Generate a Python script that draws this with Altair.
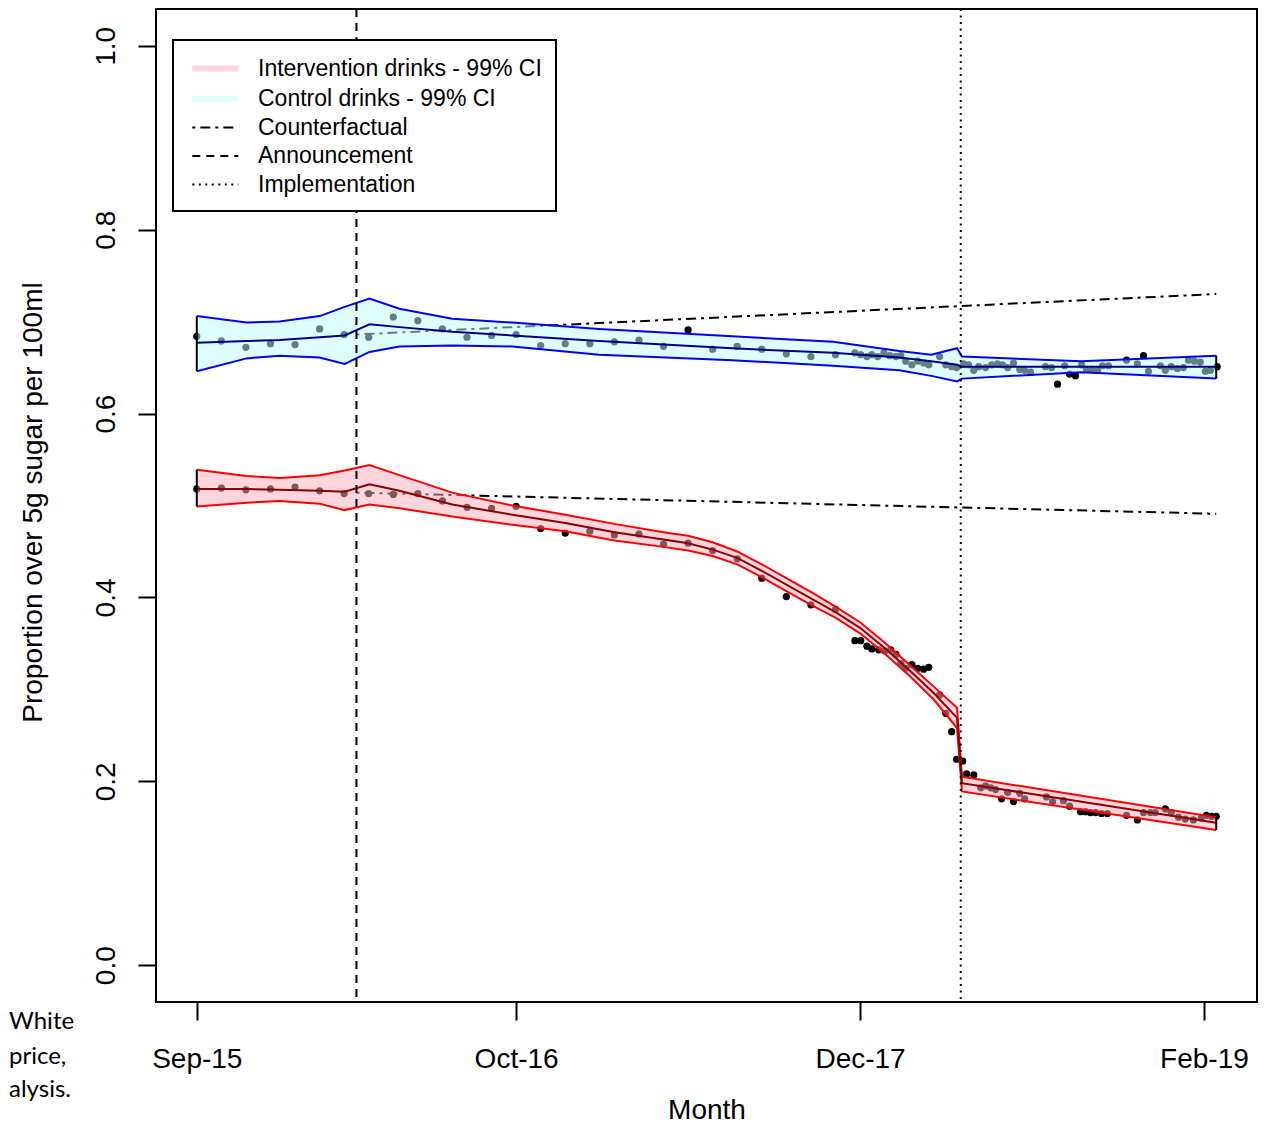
import altair as alt
import pandas as pd

# ---------------- data (x = months since Sep-2015) ----------------
ctrl_pts_m = [0, 1, 2, 3, 4, 5, 6, 7, 8, 9, 10, 11, 12, 13, 14, 15, 16, 17, 18, 19, 20, 21, 22, 23, 24, 25, 26,
              26.79, 27.03, 27.28, 27.48, 27.72, 27.97, 28.21, 28.46, 28.66, 28.86, 29.11, 29.35, 29.59, 29.80,
              30.24, 30.49, 30.73, 30.93, 31.22, 31.42, 31.63, 31.83, 32.11, 32.36, 32.60, 32.80, 33.01, 33.25,
              33.50, 33.70, 33.94, 34.55, 34.80, 35.04, 35.33, 35.53, 35.77, 36.02, 36.22, 36.42, 36.67, 36.87,
              37.11, 37.85, 38.29, 38.54, 38.74, 39.23, 39.43, 39.67, 39.92, 40.16, 40.37, 40.61, 40.85, 41.06,
              41.26, 41.54]
ctrl_pts_v = [0.684, 0.679, 0.672, 0.676, 0.675, 0.692, 0.686, 0.683, 0.705, 0.701, 0.692, 0.683, 0.685, 0.686,
              0.674, 0.676, 0.676, 0.678, 0.680, 0.673, 0.691, 0.670, 0.673, 0.670, 0.665, 0.662, 0.664,
              0.666, 0.664, 0.662, 0.664, 0.662, 0.666, 0.663, 0.662, 0.663, 0.657, 0.653, 0.657, 0.655, 0.653,
              0.662, 0.653, 0.651, 0.650, 0.654, 0.653, 0.647, 0.651, 0.650, 0.653, 0.654, 0.653, 0.650, 0.655,
              0.648, 0.647, 0.645, 0.651, 0.650, 0.632, 0.652, 0.643, 0.641, 0.653, 0.648, 0.648, 0.647, 0.652,
              0.652, 0.658, 0.654, 0.663, 0.646, 0.652, 0.647, 0.651, 0.649, 0.650, 0.658, 0.657, 0.656, 0.646,
              0.647, 0.651]

int_pts_m = [0, 1, 2, 3, 4, 5, 6, 7, 8, 9, 10, 11, 12, 13, 14, 15, 16, 17, 18, 19, 20, 21, 22, 23, 24, 25, 26,
             26.79, 27.03, 27.28, 27.48, 27.76, 28.01, 28.25, 28.46, 28.66, 28.86, 29.11, 29.35, 29.59, 29.80,
             30.24, 30.49, 30.73, 30.93, 31.18, 31.34, 31.63, 31.91, 32.11, 32.32, 32.52, 32.76, 33.01, 33.25,
             33.50, 33.70, 34.59, 34.84, 35.28, 35.53, 35.98, 36.18, 36.38, 36.59, 36.83, 37.07, 37.85, 38.29,
             38.54, 38.82, 39.02, 39.43, 39.67, 39.96, 40.24, 40.57, 40.89, 41.10, 41.30, 41.50]
int_pts_v = [0.518, 0.519, 0.517, 0.518, 0.520, 0.516, 0.513, 0.513, 0.512, 0.513, 0.505, 0.498, 0.497, 0.499,
             0.475, 0.470, 0.472, 0.468, 0.469, 0.458, 0.459, 0.451, 0.442, 0.421, 0.401, 0.392, 0.387,
             0.353, 0.353, 0.347, 0.344, 0.343, 0.342, 0.343, 0.338, 0.328, 0.323, 0.327, 0.323, 0.322, 0.324,
             0.294, 0.274, 0.254, 0.224, 0.222, 0.208, 0.207, 0.193, 0.195, 0.193, 0.191, 0.181, 0.188, 0.178,
             0.187, 0.181, 0.183, 0.178, 0.179, 0.173, 0.167, 0.167, 0.166, 0.166, 0.165, 0.165, 0.163, 0.158,
             0.166, 0.166, 0.166, 0.170, 0.166, 0.161, 0.159, 0.158, 0.160, 0.163, 0.162, 0.162]

ctrl_band_m = [0, 2.03, 3.37, 5, 6.02, 7.03, 8.25, 10.4, 12.85, 16.38, 21.8, 25.9, 28.6, 29.9, 30.95, 31.15, 36.0, 41.5]
ctrl_lo = [0.646, 0.660, 0.663, 0.661, 0.654, 0.667, 0.673, 0.674, 0.673, 0.664, 0.658, 0.652, 0.647, 0.641,
           0.635, 0.638, 0.645, 0.638]
ctrl_fit = [0.677, 0.679, 0.680, 0.683, 0.685, 0.697, 0.694, 0.689, 0.685, 0.679, 0.671, 0.666, 0.661, 0.657,
            0.653, 0.651, 0.651, 0.651]
ctrl_hi = [0.706, 0.699, 0.700, 0.706, 0.716, 0.725, 0.714, 0.703, 0.699, 0.692, 0.684, 0.678, 0.668, 0.664,
           0.671, 0.662, 0.657, 0.663]

int_band_m = [0, 2.03, 3.37, 5, 6.02, 7.03, 8.25, 10.4, 12.85, 15, 17, 19, 20, 21, 22, 23, 24, 25, 26, 27, 28,
              29, 30, 30.95, 31.15, 41.5]
int_lo = [0.499, 0.503, 0.505, 0.502, 0.495, 0.501, 0.497, 0.488, 0.479, 0.472, 0.462, 0.455, 0.451, 0.445,
          0.436, 0.422, 0.407, 0.392, 0.378, 0.361, 0.339, 0.315, 0.289, 0.258, 0.189, 0.147]
int_fit = [0.518, 0.518, 0.517, 0.516, 0.515, 0.523, 0.516, 0.501, 0.490, 0.481, 0.471, 0.463, 0.459, 0.452,
           0.443, 0.429, 0.414, 0.399, 0.384, 0.367, 0.345, 0.321, 0.296, 0.269, 0.198, 0.155]
int_hi = [0.539, 0.532, 0.530, 0.533, 0.538, 0.544, 0.533, 0.514, 0.500, 0.490, 0.480, 0.471, 0.467, 0.460,
          0.450, 0.436, 0.421, 0.406, 0.390, 0.373, 0.351, 0.327, 0.303, 0.280, 0.205, 0.161]

cf_m = [6.5, 41.5]
cf_ctrl = [0.686, 0.730]
cf_int = [0.514, 0.491]

announce_m = 6.5
implement_m = 31.1

tick_months = [0, 13, 27, 41]
tick_labels = ["Sep-15", "Oct-16", "Dec-17", "Feb-19"]
y_ticks = [0.0, 0.2, 0.4, 0.6, 0.8, 1.0]

legend_labels = ["Intervention drinks - 99% CI", "Control drinks - 99% CI", "Counterfactual",
                 "Announcement", "Implementation"]
side_text = ["White", "price,", "alysis."]

# ---------------- styles ----------------
FONT = "Liberation Sans"
DASHDOT = [3, 5, 10, 5]
DASHED = [8, 6]
DOTTED = [2, 4.5]

xs = alt.Scale(domain=[-1.66, 43.16], nice=False, zero=False)
ys = alt.Scale(domain=[-0.04, 1.04], nice=False, zero=False)

label_expr = " : ".join(f"datum.value == {m} ? '{l}'" for m, l in zip(tick_months, tick_labels)) + " : ''"

x_axis = alt.Axis(values=tick_months, labelExpr=label_expr, title="Month", labelFlush=False,
                  labelBaseline="alphabetic", labelPadding=47, titleBaseline="alphabetic", titleY=116)
y_axis = alt.Axis(values=y_ticks, format=".1f", labelAngle=270, labelAlign="center", labelBaseline="alphabetic",
                  labelPadding=24, labelFlush=False, title="Proportion over 5g sugar per 100ml",
                  titleAngle=270, titleAlign="center", titleBaseline="alphabetic", titleX=-115, titleY=493)

# ---------------- tables ----------------
pts_df = pd.concat([
    pd.DataFrame({"m": ctrl_pts_m, "v": ctrl_pts_v, "g": "control"}),
    pd.DataFrame({"m": int_pts_m, "v": int_pts_v, "g": "intervention"}),
])
ctrl_df = pd.DataFrame({"m": ctrl_band_m, "lo": ctrl_lo, "fit": ctrl_fit, "hi": ctrl_hi})
int_df = pd.DataFrame({"m": int_band_m, "lo": int_lo, "fit": int_fit, "hi": int_hi})
cf_df = pd.concat([
    pd.DataFrame({"m": cf_m, "v": cf_ctrl, "g": "control"}),
    pd.DataFrame({"m": cf_m, "v": cf_int, "g": "intervention"}),
])
edge_df = pd.concat([ctrl_df.iloc[[0, -1]], int_df.iloc[[0, -1]]])


def X(f="m"):
    return alt.X(f"{f}:Q", scale=xs, axis=x_axis)


def Y(f):
    return alt.Y(f"{f}:Q", scale=ys, axis=y_axis)


points = alt.Chart(pts_df).mark_circle(size=52, color="black", opacity=1).encode(x=X(), y=Y("v"))

cf = alt.Chart(cf_df).mark_line(color="black", strokeWidth=2, strokeDash=DASHDOT).encode(
    x=X(), y=Y("v"), detail="g:N")


def band(df, fill, edge, fitc):
    area = alt.Chart(df).mark_area(color=fill, opacity=0.5).encode(x=X(), y=Y("lo"), y2="hi")
    lo = alt.Chart(df).mark_line(color=edge, strokeWidth=2).encode(x=X(), y=Y("lo"))
    hi = alt.Chart(df).mark_line(color=edge, strokeWidth=2).encode(x=X(), y=Y("hi"))
    fit = alt.Chart(df).mark_line(color=fitc, strokeWidth=2).encode(x=X(), y=Y("fit"))
    return [area, lo, hi, fit]


ctrl_layers = band(ctrl_df, "#c0ffff", "#0000ff", "#00008b")
int_layers = band(int_df, "#ffadbb", "#ff0000", "#8b0000")

edges = alt.Chart(edge_df).mark_rule(color="black", strokeWidth=2).encode(x=X(), y=Y("lo"), y2="hi")

announce = alt.Chart(pd.DataFrame({"m": [announce_m]})).mark_rule(
    color="black", strokeWidth=2, strokeDash=DASHED).encode(x=X())
implement = alt.Chart(pd.DataFrame({"m": [implement_m]})).mark_rule(
    color="black", strokeWidth=2, strokeDash=DOTTED).encode(x=X())

leg = alt.Legend(title=None, orient="none", legendX=17, legendY=31, strokeColor="black", fillColor="white",
                 padding=14, cornerRadius=0, labelFont=FONT, labelFontSize=23, labelColor="black",
                 labelOffset=42, labelLimit=0, rowPadding=3.5, symbolType="M-0.8,0H3.2", symbolSize=529)
leg_df = pd.DataFrame({"entry": legend_labels, "m": [20] * 5, "v": [0.9] * 5})
legend_layer = alt.Chart(leg_df).mark_line().encode(
    x=X(), y=Y("v"),
    color=alt.Color("entry:N", scale=alt.Scale(domain=legend_labels,
                                               range=["#ffd6dd", "#e0ffff", "black", "black", "black"]),
                    legend=leg),
    strokeDash=alt.StrokeDash("entry:N", scale=alt.Scale(domain=legend_labels,
                                                         range=[[1, 0], [1, 0], DASHDOT, DASHED, DOTTED]),
                              legend=leg),
    strokeWidth=alt.StrokeWidth("entry:N", scale=alt.Scale(type="ordinal", domain=legend_labels,
                                                           range=[6, 6, 2, 2, 2]), legend=leg),
)

side_layers = []
for txt, yv in zip(side_text, [1013, 1048, 1081]):
    side_layers.append(alt.Chart(pd.DataFrame({"t": [txt]})).mark_text(
        font="Lato", fontSize=24, align="left", baseline="middle", color="black").encode(
        x=alt.value(-147), y=alt.value(yv), text="t:N"))

chart = alt.layer(
    points, cf, *ctrl_layers, *int_layers, edges, announce, implement, legend_layer, *side_layers
).properties(
    width=1101, height=993,
    autosize=alt.AutoSizeParams(type="none"),
    padding={"left": 148, "top": 1, "right": 1, "bottom": 125},
).configure(font=FONT).configure_view(stroke="black", strokeWidth=2).configure_axis(
    labelFont=FONT, titleFont=FONT, labelFontSize=28, titleFontSize=28, titleFontWeight="normal",
    labelColor="black", titleColor="black", tickColor="black", tickSize=18, tickWidth=2,
    domain=False, grid=False
).configure_legend(strokeWidth=2)

chart.save("out.html", embed_options={"renderer": "svg", "actions": False})
